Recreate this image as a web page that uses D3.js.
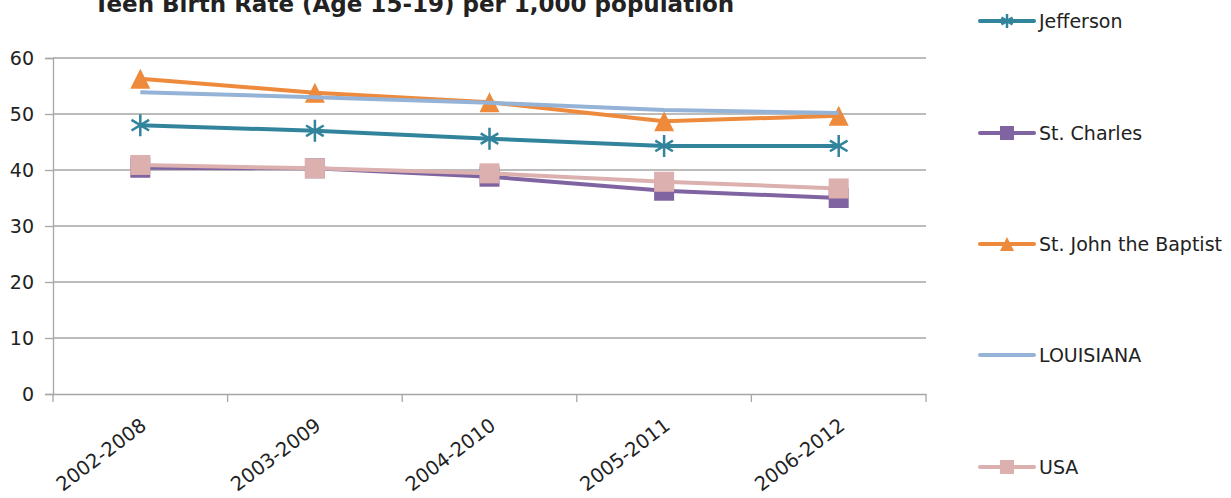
<!DOCTYPE html>
<html>
<head>
<meta charset="utf-8">
<script src="https://cdn.jsdelivr.net/npm/d3@7"></script>
<style>
  body { margin: 0; background: #fff; }
  text { font-family: "DejaVu Sans", sans-serif; fill: #222; }
</style>
</head>
<body>
<svg id="chart"></svg>
<script>
// data
const periods = ["2002-2008", "2003-2009", "2004-2010", "2005-2011", "2006-2012"];
const jefferson = [48.0, 47.0, 45.6, 44.3, 44.3];
const stCharles = [40.4, 40.3, 38.8, 36.3, 35.0];
const stJohn = [56.3, 53.8, 52.1, 48.7, 49.7];
const louisiana = [53.9, 53.0, 52.0, 50.7, 50.2];
const usa = [40.9, 40.3, 39.4, 37.9, 36.7];
const yTicks = [0, 10, 20, 30, 40, 50, 60];

const series = [
  {name: "Jefferson", values: jefferson, color: "#31849B", marker: "star"},
  {name: "St. Charles", values: stCharles, color: "#8064A2", marker: "square"},
  {name: "St. John the Baptist", values: stJohn, color: "#EE8A3C", marker: "triangle"},
  {name: "LOUISIANA", values: louisiana, color: "#95B3D7", marker: "none"},
  {name: "USA", values: usa, color: "#DBB0AF", marker: "square"}
];

const width = 1231, height = 498;
const margin = {top: 58, right: 305, bottom: 104, left: 53};

const svg = d3.select("#chart")
    .attr("width", width)
    .attr("height", height);

const x = d3.scaleBand()
    .domain(periods)
    .range([margin.left, width - margin.right]);

const y = d3.scaleLinear()
    .domain([0, 60])
    .range([height - margin.bottom, margin.top]);

// title (its top is cut off in the original too)
svg.append("text")
    .attr("x", 414)
    .attr("y", 12)
    .attr("text-anchor", "middle")
    .style("font-weight", "bold")
    .style("font-size", "23px")
    .text("Teen Birth Rate (Age 15-19) per 1,000 population");

// gridlines
svg.append("g")
  .selectAll("line")
  .data(yTicks.filter(d => d > 0))
  .join("line")
    .attr("x1", margin.left)
    .attr("x2", width - margin.right)
    .attr("y1", d => y(d))
    .attr("y2", d => y(d))
    .attr("stroke", "#A6A6A6")
    .attr("stroke-width", 1.3);

// y axis
const yAxis = svg.append("g")
    .attr("transform", `translate(${margin.left},0)`)
    .call(d3.axisLeft(y).tickValues(yTicks).tickSize(8).tickPadding(11));
yAxis.select(".domain").attr("stroke", "#A6A6A6").attr("stroke-width", 1.3);
yAxis.selectAll(".tick line").attr("stroke", "#A6A6A6").attr("stroke-width", 1.3);
yAxis.selectAll(".tick text")
    .style("font-size", "19px")
    .style("font-family", "DejaVu Sans")
    .attr("fill", "#222");

// x axis
const xAxis = svg.append("g")
    .attr("transform", `translate(0,${y(0)})`)
    .call(d3.axisBottom(x).tickSize(0).tickFormat(""));
xAxis.select(".domain").attr("stroke", "#A6A6A6").attr("stroke-width", 1.3);

const bounds = periods.map(p => x(p)).concat([width - margin.right]);
svg.append("g")
  .selectAll("line")
  .data(bounds)
  .join("line")
    .attr("x1", d => d)
    .attr("x2", d => d)
    .attr("y1", y(0))
    .attr("y2", y(0) + 8)
    .attr("stroke", "#A6A6A6")
    .attr("stroke-width", 1.3);

svg.append("g")
  .selectAll("text")
  .data(periods)
  .join("text")
    .attr("transform", d => `translate(${x(d) + x.bandwidth() / 2 - 1},${y(0) + 23}) rotate(-37)`)
    .attr("text-anchor", "end")
    .attr("dy", "0.71em")
    .style("font-size", "19.5px")
    .text(d => d);

const cx = d => x(d) + x.bandwidth() / 2;

const line = d3.line()
    .x((d, i) => cx(periods[i]))
    .y(d => y(d));

function drawMarker(g, type, color, size) {
  const h = size / 2;
  if (type === "square") {
    g.append("rect")
        .attr("x", -h).attr("y", -h)
        .attr("width", size).attr("height", size)
        .attr("fill", color);
  } else if (type === "triangle") {
    g.append("path")
        .attr("d", `M0,${-h}L${h},${h}L${-h},${h}Z`)
        .attr("fill", color);
  } else if (type === "star") {
    const d = h * 0.8;
    g.append("path")
        .attr("d", `M0,${-h}V${h}M${-d},${-d * 0.6}L${d},${d * 0.6}M${-d},${d * 0.6}L${d},${-d * 0.6}`)
        .attr("stroke", color)
        .attr("stroke-width", 2.5)
        .attr("fill", "none");
  }
}

// series, later ones on top
series.forEach(s => {
  const g = svg.append("g");
  g.append("path")
      .datum(s.values)
      .attr("d", line)
      .attr("fill", "none")
      .attr("stroke", s.color)
      .attr("stroke-width", 4)
      .attr("stroke-linejoin", "round");
  if (s.marker !== "none") {
    s.values.forEach((v, i) => {
      const m = g.append("g")
          .attr("transform", `translate(${cx(periods[i])},${y(v)})`);
      drawMarker(m, s.marker, s.color, s.marker === "star" ? 22 : 20);
    });
  }
});

// legend
const legendY = [21, 133, 244, 355, 467];
const legend = svg.append("g");
series.forEach((s, i) => {
  const g = legend.append("g")
      .attr("transform", `translate(980,${legendY[i]})`);
  g.append("line")
      .attr("x1", 0).attr("x2", 54)
      .attr("stroke", s.color)
      .attr("stroke-width", 4)
      .attr("stroke-linecap", "round");
  if (s.marker !== "none") {
    const m = g.append("g").attr("transform", "translate(27,0)");
    drawMarker(m, s.marker, s.color, 14);
  }
  g.append("text")
      .attr("x", 59)
      .attr("dy", "0.36em")
      .style("font-size", "19px")
      .text(s.name);
});
</script>
</body>
</html>
